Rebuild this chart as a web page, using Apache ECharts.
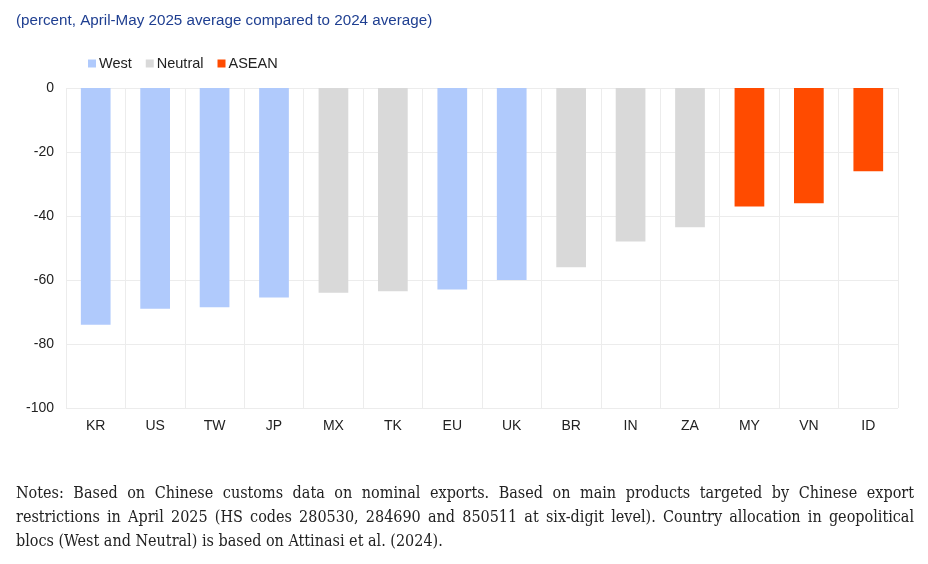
<!DOCTYPE html>
<html>
<head>
    <meta charset="UTF-8">
    <title>Export restrictions</title>
    <script src="https://cdn.jsdelivr.net/npm/echarts@6/dist/echarts.min.js"></script>
    <style>
        body { margin: 0; background: #fff; }
        #wrap { position: relative; width: 928px; height: 564px; }
        #chart { position: absolute; left: 0; top: 0; width: 928px; height: 564px; }
        #notes { position: absolute; left: 16px; top: 481px; width: 898px;
                 font-family: "DejaVu Serif Condensed", "DejaVu Serif", serif; font-size: 16px;
                 line-height: 24px; color: #222; }
        #notes div { text-align: justify; text-align-last: justify; white-space: nowrap; }
        #notes div.last { text-align-last: left; }
    </style>
</head>
<body>
<div id="wrap">
    <div id="chart"></div>
    <div id="notes">
        <div>Notes: Based on Chinese customs data on nominal exports. Based on main products targeted by Chinese export</div>
        <div>restrictions in April 2025 (HS codes 280530, 284690 and 850511 at six-digit level). Country allocation in geopolitical</div>
        <div class="last">blocs (West and Neutral) is based on Attinasi et al. (2024).</div>
    </div>
</div>
<script>
    var countries = ['KR', 'US', 'TW', 'JP', 'MX', 'TK', 'EU', 'UK', 'BR', 'IN', 'ZA', 'MY', 'VN', 'ID'];
    var west    = [-74, -69, -68.5, -65.5, null, null, -63, -60, null, null, null, null, null, null];
    var neutral = [null, null, null, null, -64, -63.5, null, null, -56, -48, -43.5, null, null, null];
    var asean   = [null, null, null, null, null, null, null, null, null, null, null, -37, -36, -26];
    var yTicks  = [0, -20, -40, -60, -80, -100];

    var chart = echarts.init(document.getElementById('chart'), null, {renderer: 'canvas'});
    var font = 'Liberation Sans, Arial, sans-serif';

    chart.setOption({
        animation: false,
        title: {
            text: '(percent, April-May 2025 average compared to 2024 average)',
            left: 11, top: 8,
            textStyle: {color: '#1f3f91', fontSize: 15.2, fontWeight: 'normal', fontFamily: font}
        },
        legend: {
            left: 83, top: 51,
            itemWidth: 8, itemHeight: 8, itemGap: 14,
            icon: 'rect',
            textStyle: {color: '#222', fontSize: 14.5, fontFamily: font, padding: [0, 0, 0, -2]},
            data: ['West', 'Neutral', 'ASEAN']
        },
        grid: {left: 66, right: 30, top: 88, bottom: 156, containLabel: false},
        xAxis: {
            type: 'category',
            data: countries,
            axisLine: {show: false},
            axisTick: {show: false},
            splitLine: {show: true, lineStyle: {color: '#ececec'}},
            axisLabel: {color: '#222', fontSize: 14, fontFamily: font, margin: 11, interval: 0},
            position: 'bottom'
        },
        yAxis: {
            type: 'value',
            min: -100, max: 0, interval: 20,
            axisLine: {show: false},
            axisTick: {show: false},
            splitLine: {lineStyle: {color: '#ececec'}},
            axisLabel: {
                color: '#222', fontSize: 14, fontFamily: font, margin: 12,
                formatter: function (v) { return yTicks.indexOf(v) >= 0 ? String(v) : ''; }
            }
        },
        series: [
            {name: 'West', type: 'bar', stack: 'all', data: west, barWidth: '50%', itemStyle: {color: '#b0cafc'}},
            {name: 'Neutral', type: 'bar', stack: 'all', data: neutral, itemStyle: {color: '#d9d9d9'}},
            {name: 'ASEAN', type: 'bar', stack: 'all', data: asean, itemStyle: {color: '#ff4b00'}}
        ]
    });
</script>
</body>
</html>
